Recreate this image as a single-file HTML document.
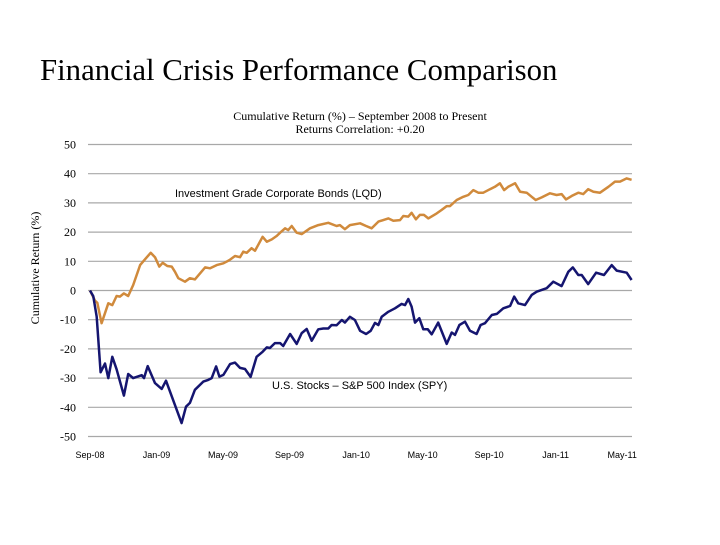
<!DOCTYPE html>
<html><head><meta charset="utf-8"><style>
body{margin:0;background:#fff;width:720px;height:540px;overflow:hidden}
svg text{font-family:"Liberation Serif",serif}
</style></head><body>
<svg id="chart" width="720" height="540" xmlns="http://www.w3.org/2000/svg">
<text x="40" y="80" font-size="30.8" fill="#000">Financial Crisis Performance Comparison</text>
<text x="360" y="120" font-size="12" text-anchor="middle">Cumulative Return (%) – September 2008 to Present</text>
<text x="360" y="133" font-size="12" text-anchor="middle">Returns Correlation: +0.20</text>
<text transform="translate(39,268) rotate(-90)" font-size="12" text-anchor="middle">Cumulative Return (%)</text>
<g id="grid"></g>
<g id="yt"></g>
<g id="xt"></g>
<g id="series"></g>
<text x="175" y="197" font-size="11" style="font-family:'Liberation Sans',sans-serif">Investment Grade Corporate Bonds (LQD)</text>
<text x="272" y="389" font-size="11" style="font-family:'Liberation Sans',sans-serif">U.S. Stocks – S&amp;P 500 Index (SPY)</text>
</svg>
<script>
const yTicks=[50,40,30,20,10,0,-10,-20,-30,-40,-50];
const xTickLabels=["Sep-08","Jan-09","May-09","Sep-09","Jan-10","May-10","Sep-10","Jan-11","May-11"];
const xTickMonths=[0,4,8,12,16,20,24,28,32];
const spyMonths=[0,0.2,0.4,0.64,0.9,1.1,1.34,1.6,2.04,2.3,2.6,3.11,3.25,3.47,3.91,4.31,4.57,5.51,5.77,6.01,6.31,6.81,7.11,7.32,7.58,7.78,8.02,8.42,8.72,9.02,9.32,9.66,10.02,10.38,10.63,10.82,11.12,11.43,11.62,12.03,12.43,12.73,13.03,13.33,13.73,14.03,14.33,14.53,14.83,15.14,15.33,15.63,15.93,16.24,16.6,16.88,17.14,17.34,17.54,17.94,18.34,18.74,18.94,19.14,19.34,19.54,19.8,20.04,20.31,20.55,20.94,21.45,21.75,21.95,22.21,22.55,22.85,23.25,23.49,23.75,24.16,24.46,24.85,25.26,25.51,25.75,26.16,26.56,26.86,27.16,27.46,27.86,28.36,28.76,29.03,29.36,29.57,29.96,30.43,30.91,31.37,31.67,32.27,32.57];
const spyValues=[0,-2,-9,-28,-25,-30,-22.7,-27,-36,-28.6,-30,-29,-30,-25.9,-31.7,-33.7,-30.9,-45.4,-39.8,-38.5,-34,-31.2,-30.6,-30,-26,-29.5,-28.9,-25.2,-24.7,-26.5,-26.9,-29.6,-22.7,-21,-19.5,-19.7,-18,-18,-19,-14.9,-18.3,-14.6,-13.2,-17.2,-13.3,-13,-13,-11.8,-11.9,-10.1,-11,-9,-10.1,-13.8,-14.9,-13.8,-11.1,-11.8,-9,-7.3,-6.1,-4.6,-5,-2.9,-5.5,-11,-9.5,-13.3,-13.3,-15,-11,-18.3,-14.4,-15.2,-11.8,-10.7,-13.8,-14.9,-11.8,-11.2,-8.4,-8,-6.1,-5.3,-2.1,-4.4,-5,-1.5,-0.4,0.2,0.8,3,1.5,6.4,7.9,5.3,5.3,2.2,6.1,5.3,8.7,6.8,6.1,3.6];
const lqdMonths=[0,0.3,0.44,0.7,1.1,1.34,1.6,1.8,2.04,2.3,2.6,3.01,3.31,3.65,3.91,4.17,4.37,4.65,4.91,5.11,5.31,5.71,6.01,6.31,6.92,7.22,7.62,8.02,8.38,8.72,9.02,9.22,9.42,9.72,9.92,10.38,10.63,10.93,11.23,11.43,11.73,11.92,12.13,12.43,12.73,13.23,13.73,14.33,14.83,15.03,15.33,15.63,16.24,16.6,16.94,17.34,17.94,18.24,18.64,18.84,19.14,19.34,19.6,19.84,20.08,20.34,20.85,21.15,21.45,21.65,22.05,22.45,22.75,23.05,23.35,23.65,24.05,24.35,24.65,24.9,25.15,25.56,25.86,26.26,26.56,26.8,27.16,27.66,28.06,28.36,28.62,28.97,29.36,29.66,29.96,30.27,30.67,31.17,31.57,31.87,32.27,32.57];
const lqdValues=[0,-3.5,-4.2,-11.2,-4.4,-5,-1.9,-2.1,-1,-1.9,1.9,8.7,10.7,12.9,11.4,8.2,9.5,8.4,8.2,6.4,4.2,3,4.2,3.8,7.9,7.6,8.7,9.3,10.4,11.8,11.4,13.3,12.9,14.5,13.6,18.4,16.7,17.5,18.7,19.8,21.3,20.7,22.1,19.8,19.3,21.3,22.4,23.2,22.1,22.4,21,22.4,23,22.1,21.3,23.6,24.7,23.9,24.1,25.5,25.3,26.6,24.4,25.9,25.9,24.7,26.4,27.6,28.9,28.9,31,32.1,32.7,34.4,33.5,33.5,34.7,35.5,36.7,34.4,35.5,36.7,33.8,33.5,32.1,31,31.9,33.3,32.7,33,31.2,32.4,33.5,33,34.7,33.8,33.5,35.5,37.3,37.3,38.4,37.9];
const NS="http://www.w3.org/2000/svg";
const X0=90,PXM=16.63,Y0=290.5,PXU=2.92,XL=88,XR=632;
function xs(m){return X0+m*PXM;}
function ys(v){return Y0-v*PXU;}
const grid=document.getElementById('grid'),yt=document.getElementById('yt'),xt=document.getElementById('xt'),ser=document.getElementById('series');
yTicks.forEach(v=>{
  const l=document.createElementNS(NS,'line');
  
  
  l.setAttribute('x1',XL);l.setAttribute('x2',XR);l.setAttribute('y1',ys(v));l.setAttribute('y2',ys(v));
  l.setAttribute('stroke','#a8a8a8');l.setAttribute('stroke-width','1.2');
  grid.appendChild(l);
  const t=document.createElementNS(NS,'text');
  
  
  t.setAttribute('x',76);t.setAttribute('y',ys(v)+4);t.setAttribute('text-anchor','end');t.setAttribute('font-size','12');
  t.textContent=v;yt.appendChild(t);
});
xTickLabels.forEach((s,i)=>{
  const t=document.createElementNS(NS,'text');
  
  
  t.setAttribute('x',xs(xTickMonths[i]));t.setAttribute('y',458);t.setAttribute('text-anchor','middle');t.setAttribute('font-size','9');
  t.setAttribute('style',"font-family:'Liberation Sans',sans-serif");
  t.textContent=s;xt.appendChild(t);
});
function line(ms,vs,color,name){
  const p=document.createElementNS(NS,'polyline');
  
  
  p.setAttribute('points',ms.map((m,i)=>xs(m).toFixed(1)+','+ys(vs[i]).toFixed(1)).join(' '));
  p.setAttribute('fill','none');p.setAttribute('stroke',color);p.setAttribute('stroke-width','2.5');p.setAttribute('stroke-linejoin','round');
  ser.appendChild(p);
}
line(lqdMonths,lqdValues,'#d08a3c','lqd-line');
line(spyMonths,spyValues,'#151570','spy-line');
</script>
</body></html>
